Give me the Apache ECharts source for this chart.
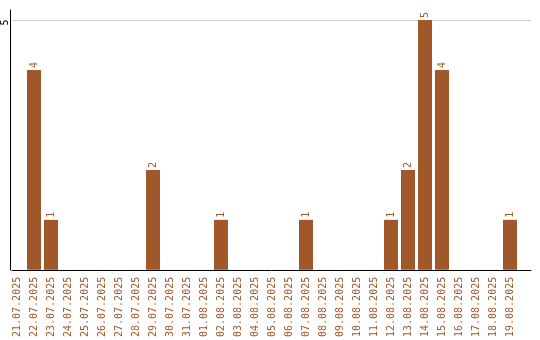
<!DOCTYPE html>
<html><head><meta charset="utf-8">
<script src="https://cdn.jsdelivr.net/npm/echarts@6/dist/echarts.min.js"></script>
<style>html,body{margin:0;padding:0;background:#fff}#c{width:540px;height:340px}</style>
</head><body><div id="c"></div>
<script>
const categories = ["21.07.2025","22.07.2025","23.07.2025","24.07.2025","25.07.2025","26.07.2025","27.07.2025","28.07.2025","29.07.2025","30.07.2025","31.07.2025","01.08.2025","02.08.2025","03.08.2025","04.08.2025","05.08.2025","06.08.2025","07.08.2025","08.08.2025","09.08.2025","10.08.2025","11.08.2025","12.08.2025","13.08.2025","14.08.2025","15.08.2025","16.08.2025","17.08.2025","18.08.2025","19.08.2025"];
const counts = [0,4,1,0,0,0,0,0,2,0,0,0,1,0,0,0,0,1,0,0,0,0,1,2,5,4,0,0,0,1];
const yMax = 5;
const yTickStep = 5;

const color = '#A0572A';
const font = 'DejaVu Sans Mono';
const chart = echarts.init(document.getElementById('c'), null, {renderer:'canvas'});
chart.setOption({
  animation:false,
  grid:[
    {left:10, top:20, width:521, height:250, containLabel:false},
    {left:8.5, top:20, width:510, height:250, containLabel:false},
    {left:10, top:10, width:521, height:260, containLabel:false}
  ],
  xAxis:[
    {gridIndex:0, type:'value', min:0, max:1, axisLine:{show:true, onZero:false, lineStyle:{color:'#000', width:1}}, axisTick:{show:false}, axisLabel:{show:false}, splitLine:{show:false}},
    {gridIndex:1, type:'category', data:categories, axisLine:{show:false}, axisTick:{show:false}, splitLine:{show:false},
     axisLabel:{rotate:90, interval:0, color:color, fontFamily:font, fontSize:10, margin:7}},
    {gridIndex:2, type:'value', min:0, max:1, show:false}
  ],
  yAxis:[
    {gridIndex:0, type:'value', min:0, max:yMax, interval:yTickStep, axisLine:{show:false}, axisTick:{show:false},
     axisLabel:{rotate:90, color:'#000', fontFamily:font, fontSize:10, margin:2, showMinLabel:false, align:'center', verticalAlign:'bottom', padding:[0,5,0,0]},
     splitLine:{show:true, lineStyle:{color:'#cccccc', width:1}}},
    {gridIndex:1, type:'value', min:0, max:yMax, show:false},
    {gridIndex:2, type:'value', min:0, max:1, axisLine:{show:true, lineStyle:{color:'#000', width:1}}, axisTick:{show:false}, axisLabel:{show:false}, splitLine:{show:false}}
  ],
  series:[{
    type:'bar', xAxisIndex:1, yAxisIndex:1, data:counts, barWidth:14,
    itemStyle:{color:color},
    label:{show:true, position:'top', rotate:90, align:'left', verticalAlign:'middle', distance:2,
      color:color, fontFamily:font, fontSize:10,
      formatter:p => p.value ? String(p.value) : ''}
  }]
});
</script></body></html>
